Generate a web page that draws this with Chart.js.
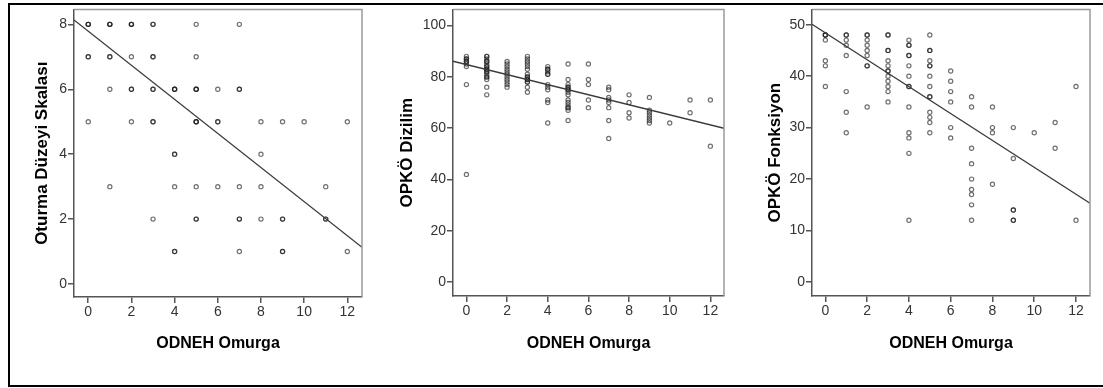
<!DOCTYPE html>
<html>
<head>
<meta charset="utf-8">
<script src="https://cdn.jsdelivr.net/npm/chart.js@4/dist/chart.umd.min.js"></script>
<style>
  body { margin: 0; background: #fff; }
  #quadro { position: relative; width: 1103px; height: 388px; overflow: hidden; background: #fff; }
  #borda { position: absolute; left: 8px; top: 3px; width: 1110px; height: 380px; border: 2px solid #000; pointer-events: none; }
  canvas { position: absolute; top: 0; }
</style>
</head>
<body>
<div id="quadro">
  <canvas id="g-oturma" width="360" height="384" style="left:10px"></canvas>
  <canvas id="g-dizilim" width="366" height="384" style="left:370px"></canvas>
  <canvas id="g-fonksiyon" width="367" height="384" style="left:736px"></canvas>
  <div id="borda"></div>
</div>
<script>
// --- DADOS ---
// valores de ODNEH Omurga no eixo x
const odnehValores = [0, 1, 2, 3, 4, 5, 6, 7, 8, 9, 10, 11, 12];
const ticksX = [0, 2, 4, 6, 8, 10, 12];

// para cada valor de ODNEH, os valores observados (repetidos = pontos mais escuros)
const oturmaPorOdneh = [
  [8, 8, 8, 7, 7, 5],
  [8, 8, 8, 7, 7, 6, 3],
  [8, 8, 8, 7, 6, 6, 5],
  [8, 8, 7, 7, 6, 6, 5, 5, 2],
  [6, 6, 6, 4, 4, 3, 1, 1],
  [8, 7, 6, 6, 6, 5, 5, 5, 3, 2, 2],
  [6, 5, 5, 3],
  [8, 6, 6, 3, 2, 2, 1],
  [5, 4, 3, 2],
  [5, 2, 2, 1, 1],
  [5],
  [3, 2, 2],
  [5, 1]
];
const ticksOturma = [0, 2, 4, 6, 8];

const dizilimPorOdneh = [
  [88, 87, 87, 86, 86, 85, 84, 77, 42],
  [88, 88, 87, 86, 86, 85, 84, 84, 83, 83, 82, 82, 81, 80, 80, 79, 76, 73],
  [86, 85, 84, 83, 82, 81, 80, 79, 78, 77, 76],
  [88, 87, 86, 85, 84, 83, 81, 80, 80, 79, 79, 78, 78, 76, 74],
  [84, 83, 83, 82, 81, 81, 77, 76, 75, 71, 70, 62],
  [85, 79, 77, 76, 76, 75, 75, 74, 73, 71, 70, 69, 68, 68, 67, 63],
  [85, 79, 77, 71, 68],
  [76, 75, 72, 71, 70, 68, 63, 56],
  [73, 70, 66, 64],
  [72, 67, 66, 65, 64, 63, 62],
  [62],
  [71, 66],
  [71, 53]
];
const ticksDizilim = [0, 20, 40, 60, 80, 100];

const fonksiyonPorOdneh = [
  [48, 48, 48, 47, 43, 42, 38],
  [48, 48, 47, 46, 44, 37, 33, 29],
  [48, 48, 47, 46, 45, 44, 42, 42, 34],
  [48, 48, 45, 45, 43, 42, 41, 41, 40, 39, 38, 37, 35],
  [47, 46, 46, 44, 44, 42, 40, 38, 38, 34, 29, 28, 25, 12],
  [48, 45, 45, 43, 42, 42, 40, 38, 36, 36, 33, 32, 31, 29],
  [41, 39, 37, 35, 30, 28],
  [36, 34, 26, 23, 20, 18, 17, 15, 12],
  [34, 30, 29, 19],
  [30, 24, 14, 14, 12, 12],
  [29],
  [31, 26],
  [38, 12]
];
const ticksFonksiyon = [0, 10, 20, 30, 40, 50];

// reta de regressão: [intercepto, inclinação]
const ajusteOturma = [7.79, -0.525];
const ajusteDizilim = [84.8, -1.96];
const ajusteFonksiyon = [48.4, -2.61];

// --- ESTILO ---
const fonteTicks = "'Liberation Sans Narrow', 'Liberation Sans', Arial, sans-serif";
const fonteTitulo = "'Liberation Sans', Arial, sans-serif";
const corEixo = '#555';

// moldura cinza no topo e à direita da área do gráfico
const molduraPlugin = {
  id: 'moldura',
  afterDraw(chart) {
    const { ctx, chartArea: a } = chart;
    ctx.save();
    ctx.strokeStyle = '#9a9a9a';
    ctx.lineWidth = 1.5;
    ctx.beginPath();
    ctx.moveTo(a.left, a.top);
    ctx.lineTo(a.right, a.top);
    ctx.lineTo(a.right, a.bottom);
    ctx.stroke();
    ctx.restore();
  }
};

function montarPontos(grupos) {
  const pontos = [];
  grupos.forEach((valores, i) => {
    valores.forEach(v => pontos.push({ x: odnehValores[i], y: v }));
  });
  return pontos;
}

function criarGrafico(id, grupos, ajuste, ticksY, cfg) {
  const [a, b] = ajuste;
  const reta = [
    { x: cfg.xMin, y: a + b * cfg.xMin },
    { x: cfg.xMax, y: a + b * cfg.xMax }
  ];

  return new Chart(document.getElementById(id), {
    data: {
      datasets: [
        {
          type: 'line',
          data: reta,
          borderColor: '#3a3a3a',
          borderWidth: 1.3,
          pointRadius: 0,
          fill: false
        },
        {
          type: 'scatter',
          data: montarPontos(grupos),
          pointStyle: 'circle',
          pointRadius: 2.1,
          borderWidth: 1.2,
          borderColor: 'rgba(25, 25, 25, 0.62)',
          backgroundColor: 'rgba(255, 255, 255, 0)'
        }
      ]
    },
    options: {
      responsive: false,
      animation: false,
      events: [],
      layout: { padding: { top: cfg.padTop, right: cfg.padRight, left: 0, bottom: 0 } },
      plugins: { legend: { display: false }, tooltip: { enabled: false } },
      scales: {
        x: {
          type: 'linear',
          min: cfg.xMin,
          max: cfg.xMax,
          afterBuildTicks: s => { s.ticks = ticksX.map(v => ({ value: v })); },
          afterFit: s => { s.height = cfg.xHeight; },
          grid: { drawOnChartArea: false, drawTicks: true, tickLength: 6, color: corEixo, lineWidth: 1.5 },
          border: { display: true, color: corEixo, width: 1.5 },
          ticks: { font: { family: fonteTicks, size: 14 }, color: '#333', padding: 1, maxRotation: 0, autoSkip: false },
          title: {
            display: true,
            text: 'ODNEH Omurga',
            color: '#000',
            font: { family: fonteTitulo, size: 16, weight: 'bold' },
            padding: { top: 0, bottom: 31 }
          }
        },
        y: {
          type: 'linear',
          min: cfg.yMin,
          max: cfg.yMax,
          afterBuildTicks: s => { s.ticks = ticksY.map(v => ({ value: v })); },
          afterFit: s => { s.width = cfg.yWidth; },
          grid: { drawOnChartArea: false, drawTicks: true, tickLength: 6, color: corEixo, lineWidth: 1.5 },
          border: { display: true, color: corEixo, width: 1.5 },
          ticks: { font: { family: fonteTicks, size: 14 }, color: '#333', padding: 1, autoSkip: false },
          title: {
            display: true,
            text: cfg.yTitulo,
            color: '#000',
            font: { family: fonteTitulo, size: 17, weight: 'bold' },
            padding: { top: cfg.yTituloPad, bottom: 0 }
          }
        }
      }
    },
    plugins: [molduraPlugin]
  });
}

// --- INICIALIZAÇÃO ---
criarGrafico('g-oturma', oturmaPorOdneh, ajusteOturma, ticksOturma, {
  yTitulo: 'Oturma Düzeyi Skalası',
  xMin: -0.66, xMax: 12.68, yMin: -0.4, yMax: 8.46,
  yWidth: 64, xHeight: 87, padTop: 7, padRight: 8, yTituloPad: 22
});

criarGrafico('g-dizilim', dizilimPorOdneh, ajusteDizilim, ticksDizilim, {
  yTitulo: 'OPKÖ Dizilim',
  xMin: -0.66, xMax: 12.67, yMin: -5.4, yMax: 106.3,
  yWidth: 83, xHeight: 88, padTop: 7, padRight: 12, yTituloPad: 27
});

criarGrafico('g-fonksiyon', fonksiyonPorOdneh, ajusteFonksiyon, ticksFonksiyon, {
  yTitulo: 'OPKÖ Fonksiyon',
  xMin: -0.64, xMax: 12.67, yMin: -2.7, yMax: 52.96,
  yWidth: 76, xHeight: 88, padTop: 7, padRight: 13, yTituloPad: 29
});
</script>
</body>
</html>
